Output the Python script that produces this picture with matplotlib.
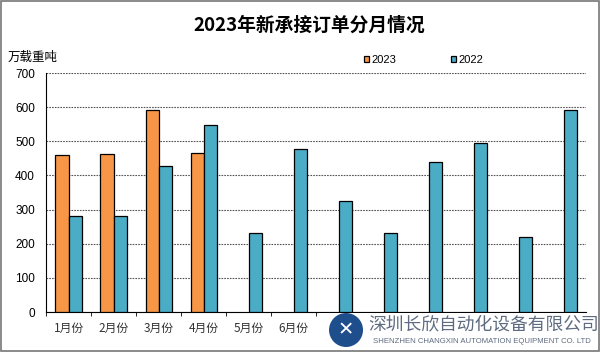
import numpy as np
import matplotlib.pyplot as plt
from matplotlib.patches import Rectangle, Ellipse

plt.rcParams['font.family'] = ['Liberation Sans', 'Noto Sans CJK SC', 'DejaVu Sans']

months = ["1月份", "2月份", "3月份", "4月份", "5月份", "6月份",
          "7月份", "8月份", "9月份", "10月份", "11月份", "12月份"]
v2023 = [460, 462, 592, 467, np.nan, np.nan, np.nan, np.nan, np.nan, np.nan, np.nan, np.nan]
v2022 = [280, 282, 428, 547, 230, 476, 326, 232, 440, 494, 220, 591]

fig = plt.figure(figsize=(6, 3.52), dpi=100)
ax = fig.add_axes([0.0767, 0.1136, 0.9003, 0.679])

x = np.arange(len(months))
w = 0.29
ax.bar(x - w / 2, v2023, w, color="#F79646", edgecolor="black", linewidth=0.9, label="2023", zorder=3)
ax.bar(x + w / 2, v2022, w, color="#4BACC6", edgecolor="black", linewidth=0.9, label="2022", zorder=3)

ax.set_xlim(-0.5, len(months) - 0.5)
ax.set_ylim(0, 700)
ax.set_yticks(range(0, 701, 100))
ax.yaxis.grid(True, color="#555555", linestyle=(0, (1.5, 1)), linewidth=0.8, zorder=0)
ax.set_axisbelow(True)

ax.set_xticks(x)
ax.set_xticklabels(months, family=['Noto Sans CJK SC'], fontsize=8.5, color="#333333")
ax.set_xticks(np.arange(-0.5, len(months), 1), minor=True)
ax.tick_params(axis='x', which='major', length=0, pad=7)
ax.tick_params(axis='x', which='minor', length=3, direction='out', color="black")
ax.tick_params(axis='y', length=0, labelsize=8.5, pad=8)
# labels for Jul-Dec sit under the company watermark
for lbl in ax.get_xticklabels()[6:]:
    lbl.set_visible(False)

for s in ["top", "right"]:
    ax.spines[s].set_visible(False)
ax.spines["left"].set_color("black")
ax.spines["bottom"].set_color("black")

fig.text(0.516, 0.927, "2023年新承接订单分月情况", ha="center", va="center",
         fontsize=13.5, fontweight="bold", family=['Noto Sans CJK SC'])
fig.text(0.012, 0.837, "万载重吨", ha="left", va="center", fontsize=9,
         family=['Noto Sans CJK SC'])

leg = fig.legend(loc="center", bbox_to_anchor=(0.706, 0.83), ncol=2, frameon=False,
                 fontsize=8, handlelength=0.45, handleheight=0.45, handletextpad=0.2,
                 columnspacing=5.0)

# watermark
fig.patches.append(Rectangle((0.532, 0.0), 0.466, 0.11, transform=fig.transFigure,
                             facecolor="white", edgecolor="none", zorder=5))
fig.patches.append(Ellipse((0.5767, 0.0625), 34 / 600, 34 / 352, transform=fig.transFigure,
                           facecolor="#1F4E8C", edgecolor="none", zorder=6))
fig.text(0.5767, 0.0625, "✕", ha="center", va="center", color="white", fontsize=14,
         fontweight="bold", family=['DejaVu Sans'], zorder=7)
fig.text(0.806, 0.077, "深圳长欣自动化设备有限公司", ha="center", va="center", fontsize=12.8,
         color="#5E6B80", family=['Noto Sans CJK SC'], zorder=7)
fig.text(0.8025, 0.031, "SHENZHEN CHANGXIN AUTOMATION EQUIPMENT CO. LTD", ha="center",
         va="center", fontsize=5.6, color="#5E6B80", zorder=7)

fig.patches.append(Rectangle((0.001, 0.002), 0.997, 0.995, transform=fig.transFigure,
                             facecolor="none", edgecolor="#777777", linewidth=1.2, zorder=8))

fig.savefig("out.png", dpi=100)
